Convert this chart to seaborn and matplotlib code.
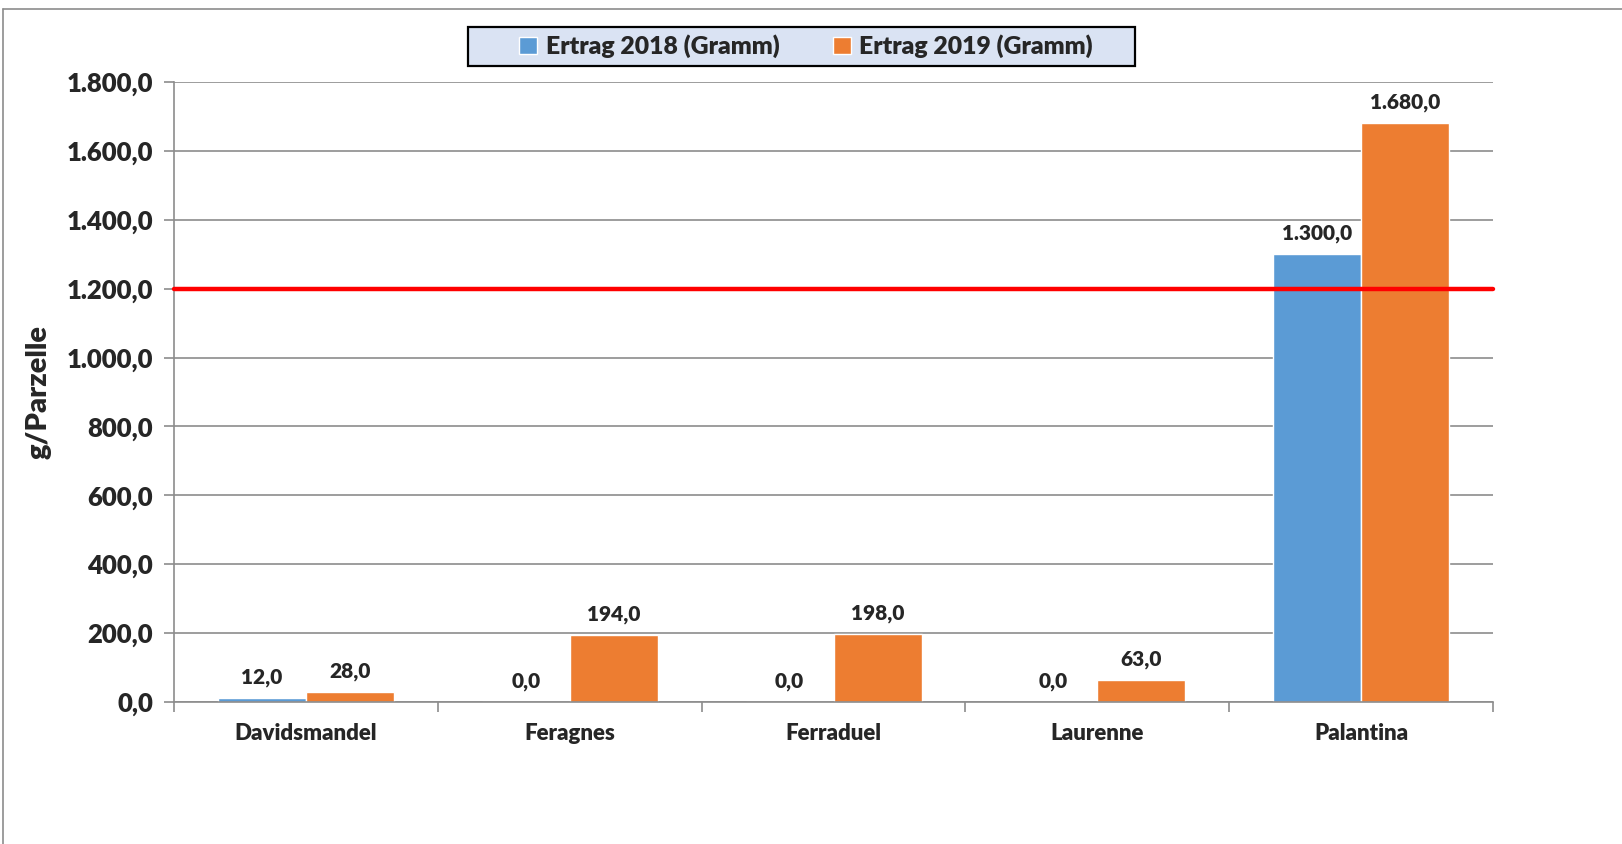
import pandas as pd
import seaborn as sns
import matplotlib.pyplot as plt
from matplotlib.ticker import FuncFormatter, FixedLocator
from matplotlib.lines import Line2D
from matplotlib.patches import Rectangle

# Data
sorten = ['Davidsmandel', 'Feragnes', 'Ferraduel', 'Laurenne', 'Palantina']
ertrag_2018 = [12.0, 0.0, 0.0, 0.0, 1300.0]
ertrag_2019 = [28.0, 194.0, 198.0, 63.0, 1680.0]
serien = ['Ertrag 2018 (Gramm)', 'Ertrag 2019 (Gramm)']
grenzwert = 1200.0

df = pd.DataFrame({
    'Sorte': sorten * 2,
    'Serie': [serien[0]] * len(sorten) + [serien[1]] * len(sorten),
    'Ertrag': ertrag_2018 + ertrag_2019,
})

sns.set_style('white')
plt.rcParams['font.family'] = ['Lato', 'DejaVu Sans']
plt.rcParams['font.weight'] = 'heavy'
W = 'heavy'


def de_fmt(v, pos=None):
    s = f'{v:,.1f}'
    return s.replace(',', 'X').replace('.', ',').replace('X', '.')


fig = plt.figure(figsize=(16.22, 8.44), dpi=100)
ax = fig.add_axes([0.1073, 0.1682, 0.9205 - 0.1073, 0.9028 - 0.1682])

sns.barplot(data=df, x='Sorte', y='Ertrag', hue='Serie', order=sorten,
            palette=['#5B9BD5', '#ED7D31'], width=0.667, saturation=1,
            ax=ax, legend=True)

for cont in ax.containers:
    ax.bar_label(cont, labels=[de_fmt(b.get_height()) for b in cont],
                 padding=8, fontsize=15, fontweight=W)

ax.axhline(grenzwert, color='#FF0000', lw=3.2, zorder=5, clip_on=False)

ax.set_ylim(0, 1800)
ax.set_xlim(-0.5, len(sorten) - 0.5)
ax.set_yticks(range(0, 1801, 200))
ax.yaxis.set_major_formatter(FuncFormatter(de_fmt))
ax.yaxis.grid(True, color='#8C8C8C', lw=1.2)
ax.set_axisbelow(True)

for s in ['top', 'right']:
    ax.spines[s].set_visible(False)
for s in ['left', 'bottom']:
    ax.spines[s].set_color('#8C8C8C')
    ax.spines[s].set_linewidth(1.2)

ax.tick_params(axis='y', direction='out', length=7, color='#8C8C8C', width=1.2,
               labelsize=18.5, pad=8, left=True)
ax.tick_params(axis='x', which='major', length=0, labelsize=16, pad=15)
ax.xaxis.set_minor_locator(FixedLocator([i - 0.5 for i in range(len(sorten) + 1)]))
ax.tick_params(axis='x', which='minor', direction='out', length=7,
               color='#8C8C8C', width=1.2, bottom=True)
for lab in ax.get_yticklabels() + ax.get_xticklabels():
    lab.set_fontweight(W)

ax.set_xlabel('')
ax.set_ylabel('g/Parzelle', fontsize=21, fontweight=W, labelpad=11)

# legend: frame drawn separately so the box can be wider than the entries
handles, labels = ax.get_legend_handles_labels()
ax.legend_.remove()
fig.add_artist(Rectangle((468 / 1622, 1 - 66 / 844), (1135 - 468) / 1622, 39 / 844,
                         transform=fig.transFigure, facecolor='#DAE3F3',
                         edgecolor='black', lw=1.6, zorder=1))
leg = fig.legend(handles, labels, loc='center', bbox_to_anchor=(0.497, 1 - 46.5 / 844),
                 ncol=2, frameon=False,
                 handlelength=0.72, handleheight=0.72, handletextpad=0.35,
                 columnspacing=2.15, borderpad=0.2,
                 prop={'weight': W, 'size': 17.8})
leg.set_zorder(2)

# outer chart frame
fig.add_artist(Line2D([3 / 1622, 1], [1 - 8.5 / 844, 1 - 8.5 / 844],
                      transform=fig.transFigure, color='#8C8C8C', lw=1.2))
fig.add_artist(Line2D([3 / 1622, 3 / 1622], [0, 1 - 8.5 / 844],
                      transform=fig.transFigure, color='#8C8C8C', lw=1.2))

fig.savefig('out.png', dpi=100)
